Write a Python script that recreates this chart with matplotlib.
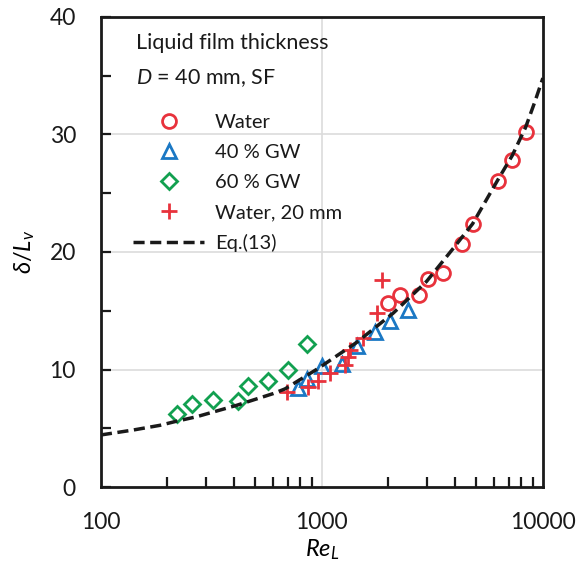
import matplotlib
matplotlib.use("Agg")
import matplotlib.pyplot as plt
from matplotlib.ticker import FixedLocator, FixedFormatter, NullFormatter

plt.rcParams['font.family'] = ['Lato', 'DejaVu Sans']
plt.rcParams['mathtext.fontset'] = 'custom'
plt.rcParams['mathtext.rm'] = 'Lato'
plt.rcParams['mathtext.it'] = 'Lato:italic'
plt.rcParams['mathtext.bf'] = 'Lato:bold'

# Water, D = 40 mm
water_re = [1995, 2254, 2748, 3027, 3518, 4287, 4808, 6237, 7264, 8350]
water_d = [15.7, 16.3, 16.3, 17.7, 18.2, 20.7, 22.4, 26.0, 27.8, 30.2]

# 40 % glycerol-water
gw40_re = [781, 853, 997, 1228, 1436, 1737, 2031, 2456]
gw40_d = [8.4, 9.2, 10.3, 10.5, 12.0, 13.2, 14.1, 15.1]

# 60 % glycerol-water
gw60_re = [221, 259, 322, 418, 464, 571, 700, 853]
gw60_d = [6.2, 7.1, 7.4, 7.3, 8.6, 9.05, 10.0, 12.2]

# Water, D = 20 mm
w20_re = [697, 867, 962, 1087, 1271, 1315, 1339, 1538, 1769, 1863]
w20_d = [8.1, 8.5, 9.05, 9.7, 10.4, 11.1, 11.7, 12.7, 14.8, 17.6]

# Eq.(13)
eq_re = [100, 140, 185, 220, 271, 411, 602, 681, 945, 1435, 2103, 2977,
         3927, 4808, 6237, 7264, 8350, 9204, 10000]
eq_d = [4.43, 4.85, 5.25, 5.6, 5.98, 6.95, 7.95, 8.35, 10.0, 12.3, 14.8,
        17.5, 20.3, 22.4, 26.1, 28.2, 30.6, 32.8, 34.8]

x_ticks = [100, 1000, 10000]
x_tick_labels = ['100', '1000', '10000']
y_ticks = [0, 10, 20, 30, 40]

RED = '#e8323c'
BLUE = '#1b78c4'
GREEN = '#12a050'
INK = '#1a1a1a'

fig = plt.figure(figsize=(5.8, 5.76), dpi=100)
ax = fig.add_axes([0.174, 0.1545, 0.762, 0.816])

ax.set_xscale('log')
ax.set_xlim(100, 10000)
ax.set_ylim(0, 40)

for y in [10, 20, 30]:
    ax.axhline(y, color='#dcdcdc', lw=1.2, zorder=0)
ax.axvline(1000, color='#dcdcdc', lw=1.2, zorder=0)

ax.plot(water_re, water_d, 'o', mfc='none', mec=RED, mew=2.0, ms=10,
        label='Water', zorder=3)
ax.plot(gw40_re, gw40_d, '^', mfc='none', mec=BLUE, mew=2.0, ms=10,
        label='40 % GW', zorder=3)
ax.plot(gw60_re, gw60_d, 'D', mfc='none', mec=GREEN, mew=2.0, ms=8.3,
        label='60 % GW', zorder=3)
ax.plot(w20_re, w20_d, '+', mec=RED, mew=2.0, ms=11,
        label='Water, 20 mm', zorder=3)
ax.plot(eq_re, eq_d, color=INK, lw=2.5, ls=(0, (3.2, 1.6)),
        label='Eq.(13)', zorder=4)

ax.yaxis.set_major_locator(FixedLocator(y_ticks))
ax.yaxis.set_minor_locator(FixedLocator([5, 15, 25, 35]))
ax.xaxis.set_major_locator(FixedLocator(x_ticks))
ax.xaxis.set_major_formatter(FixedFormatter(x_tick_labels))
minor = [m * d for d in (100, 1000) for m in range(2, 10)]
ax.xaxis.set_minor_locator(FixedLocator(minor))
ax.xaxis.set_minor_formatter(NullFormatter())

ax.tick_params(axis='both', which='both', direction='in', width=1.6,
               labelsize=16.5, colors=INK, top=False, right=False)
ax.tick_params(axis='both', which='major', length=7, pad=18)
ax.tick_params(axis='both', which='minor', length=7)
ax.tick_params(axis='x', which='major', length=0)

for s in ax.spines.values():
    s.set_linewidth(2.0)
    s.set_color(INK)

ax.set_xlabel(r'$Re_L$', fontsize=17, labelpad=3)
ax.set_ylabel(r'$\delta/L_v$', fontsize=17, labelpad=9)

ax.text(0.08, 0.945, 'Liquid film thickness', transform=ax.transAxes,
        fontsize=15.5, color=INK, va='center')
ax.text(0.08, 0.869, r'$D$ = 40 mm, SF', transform=ax.transAxes,
        fontsize=15.5, color=INK, va='center')

leg = ax.legend(loc='upper left', bbox_to_anchor=(0.055, 0.81), frameon=False,
                fontsize=14.5, handlelength=3.5, handletextpad=0.55,
                labelspacing=0.64, borderaxespad=0)
for t in leg.get_texts():
    t.set_color(INK)

fig.savefig('out.png', dpi=100)
